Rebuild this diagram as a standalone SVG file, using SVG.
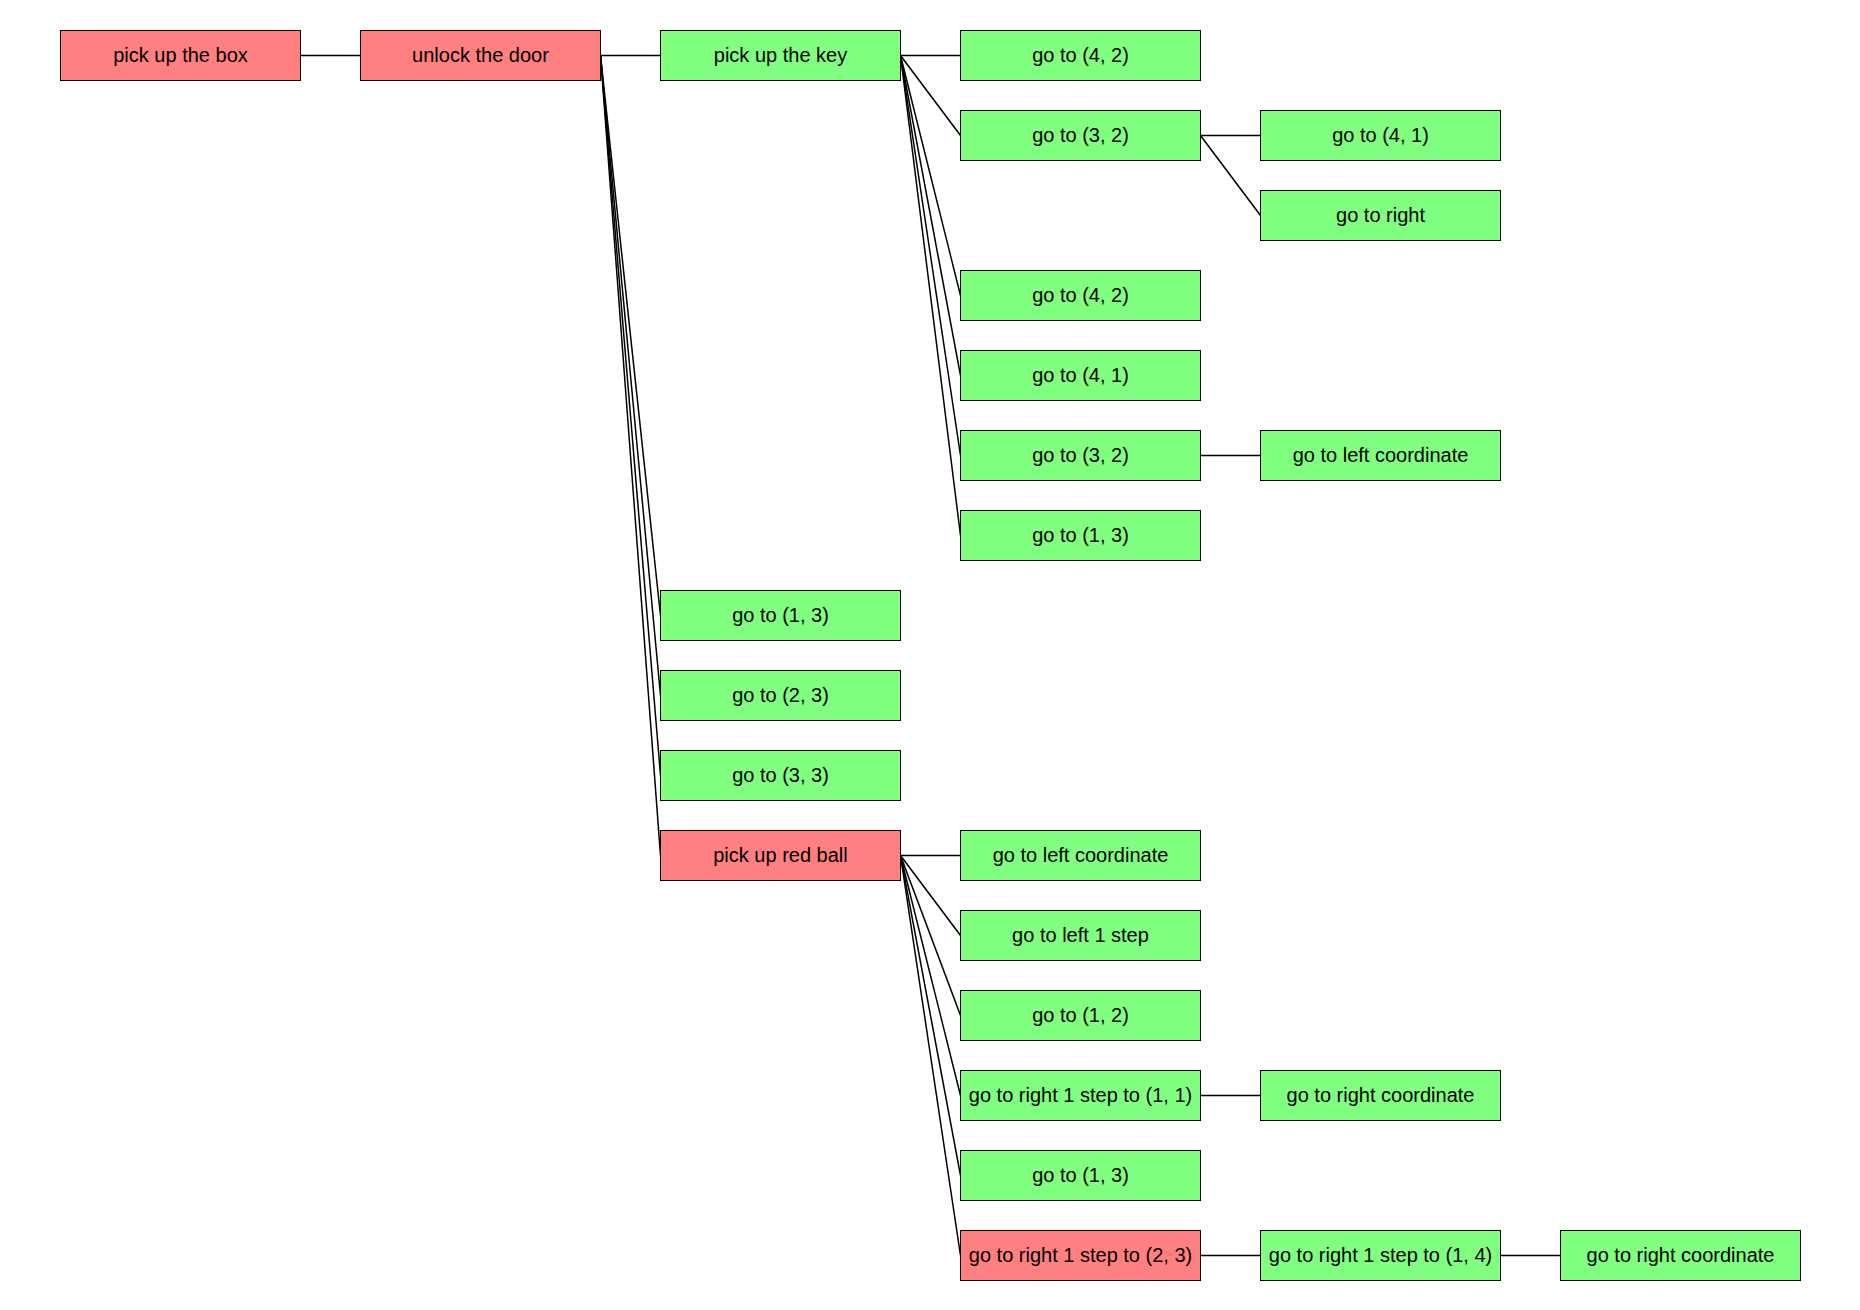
<svg xmlns="http://www.w3.org/2000/svg" width="1860" height="1310" viewBox="0 0 1860 1310">
  <style>
    .box rect { stroke: #000; stroke-width: 1; }
    .fail rect { fill: #FF8080; }
    .ok rect { fill: #80FF80; }
    .box text { font-family: "Liberation Sans", Arial, sans-serif; font-size: 20px; fill: #000; text-anchor: middle; }
    #edges line { stroke: #000; stroke-width: 1.5; }
  </style>
  <rect width="1860" height="1310" fill="#fff"/>

  <!-- connectors: parent right-middle to child left-middle -->
  <g id="edges">
    <line x1="300.5" y1="55.5" x2="360.5" y2="55.5"/>
    <line x1="600.5" y1="55.5" x2="660.5" y2="55.5"/>
    <line x1="600.5" y1="55.5" x2="660.5" y2="615.5"/>
    <line x1="600.5" y1="55.5" x2="660.5" y2="695.5"/>
    <line x1="600.5" y1="55.5" x2="660.5" y2="775.5"/>
    <line x1="600.5" y1="55.5" x2="660.5" y2="855.5"/>
    <line x1="900.5" y1="55.5" x2="960.5" y2="55.5"/>
    <line x1="900.5" y1="55.5" x2="960.5" y2="135.5"/>
    <line x1="900.5" y1="55.5" x2="960.5" y2="295.5"/>
    <line x1="900.5" y1="55.5" x2="960.5" y2="375.5"/>
    <line x1="900.5" y1="55.5" x2="960.5" y2="455.5"/>
    <line x1="900.5" y1="55.5" x2="960.5" y2="535.5"/>
    <line x1="1200.5" y1="135.5" x2="1260.5" y2="135.5"/>
    <line x1="1200.5" y1="135.5" x2="1260.5" y2="215.5"/>
    <line x1="1200.5" y1="455.5" x2="1260.5" y2="455.5"/>
    <line x1="900.5" y1="855.5" x2="960.5" y2="855.5"/>
    <line x1="900.5" y1="855.5" x2="960.5" y2="935.5"/>
    <line x1="900.5" y1="855.5" x2="960.5" y2="1015.5"/>
    <line x1="900.5" y1="855.5" x2="960.5" y2="1095.5"/>
    <line x1="900.5" y1="855.5" x2="960.5" y2="1175.5"/>
    <line x1="900.5" y1="855.5" x2="960.5" y2="1255.5"/>
    <line x1="1200.5" y1="1095.5" x2="1260.5" y2="1095.5"/>
    <line x1="1200.5" y1="1255.5" x2="1260.5" y2="1255.5"/>
    <line x1="1500.5" y1="1255.5" x2="1560.5" y2="1255.5"/>
  </g>

  <g id="n-box" class="box fail" transform="translate(60.5,30.5)"><rect width="240" height="50"/><text x="120" y="31">pick up the box</text></g>
  <g id="n-door" class="box fail" transform="translate(360.5,30.5)"><rect width="240" height="50"/><text x="120" y="31">unlock the door</text></g>
  <g id="n-key" class="box ok" transform="translate(660.5,30.5)"><rect width="240" height="50"/><text x="120" y="31">pick up the key</text></g>
  <g id="n-key-1" class="box ok" transform="translate(960.5,30.5)"><rect width="240" height="50"/><text x="120" y="31">go to (4, 2)</text></g>
  <g id="n-key-2" class="box ok" transform="translate(960.5,110.5)"><rect width="240" height="50"/><text x="120" y="31">go to (3, 2)</text></g>
  <g id="n-key-2a" class="box ok" transform="translate(1260.5,110.5)"><rect width="240" height="50"/><text x="120" y="31">go to (4, 1)</text></g>
  <g id="n-key-2b" class="box ok" transform="translate(1260.5,190.5)"><rect width="240" height="50"/><text x="120" y="31">go to right</text></g>
  <g id="n-key-3" class="box ok" transform="translate(960.5,270.5)"><rect width="240" height="50"/><text x="120" y="31">go to (4, 2)</text></g>
  <g id="n-key-4" class="box ok" transform="translate(960.5,350.5)"><rect width="240" height="50"/><text x="120" y="31">go to (4, 1)</text></g>
  <g id="n-key-5" class="box ok" transform="translate(960.5,430.5)"><rect width="240" height="50"/><text x="120" y="31">go to (3, 2)</text></g>
  <g id="n-key-5a" class="box ok" transform="translate(1260.5,430.5)"><rect width="240" height="50"/><text x="120" y="31">go to left coordinate</text></g>
  <g id="n-key-6" class="box ok" transform="translate(960.5,510.5)"><rect width="240" height="50"/><text x="120" y="31">go to (1, 3)</text></g>
  <g id="n-door-2" class="box ok" transform="translate(660.5,590.5)"><rect width="240" height="50"/><text x="120" y="31">go to (1, 3)</text></g>
  <g id="n-door-3" class="box ok" transform="translate(660.5,670.5)"><rect width="240" height="50"/><text x="120" y="31">go to (2, 3)</text></g>
  <g id="n-door-4" class="box ok" transform="translate(660.5,750.5)"><rect width="240" height="50"/><text x="120" y="31">go to (3, 3)</text></g>
  <g id="n-ball" class="box fail" transform="translate(660.5,830.5)"><rect width="240" height="50"/><text x="120" y="31">pick up red ball</text></g>
  <g id="n-ball-1" class="box ok" transform="translate(960.5,830.5)"><rect width="240" height="50"/><text x="120" y="31">go to left coordinate</text></g>
  <g id="n-ball-2" class="box ok" transform="translate(960.5,910.5)"><rect width="240" height="50"/><text x="120" y="31">go to left 1 step</text></g>
  <g id="n-ball-3" class="box ok" transform="translate(960.5,990.5)"><rect width="240" height="50"/><text x="120" y="31">go to (1, 2)</text></g>
  <g id="n-ball-4" class="box ok" transform="translate(960.5,1070.5)"><rect width="240" height="50"/><text x="120" y="31">go to right 1 step to (1, 1)</text></g>
  <g id="n-ball-4a" class="box ok" transform="translate(1260.5,1070.5)"><rect width="240" height="50"/><text x="120" y="31">go to right coordinate</text></g>
  <g id="n-ball-5" class="box ok" transform="translate(960.5,1150.5)"><rect width="240" height="50"/><text x="120" y="31">go to (1, 3)</text></g>
  <g id="n-ball-6" class="box fail" transform="translate(960.5,1230.5)"><rect width="240" height="50"/><text x="120" y="31">go to right 1 step to (2, 3)</text></g>
  <g id="n-ball-6a" class="box ok" transform="translate(1260.5,1230.5)"><rect width="240" height="50"/><text x="120" y="31">go to right 1 step to (1, 4)</text></g>
  <g id="n-ball-6b" class="box ok" transform="translate(1560.5,1230.5)"><rect width="240" height="50"/><text x="120" y="31">go to right coordinate</text></g>
</svg>
